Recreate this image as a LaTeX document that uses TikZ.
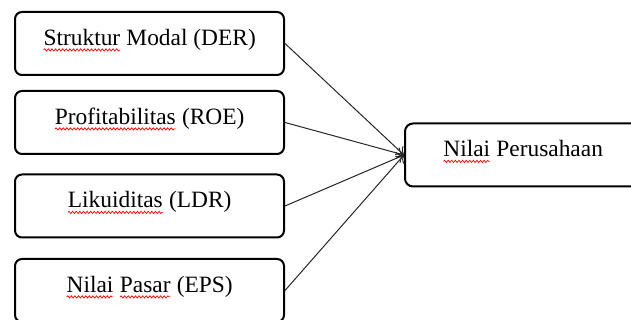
\documentclass[tikz,border=0pt]{standalone}
\usepackage{fontspec}
\setmainfont{Liberation Serif}
\usetikzlibrary{decorations.pathmorphing, arrows.meta}
\newcommand{\spellmark}[1]{\tikz[baseline=(w.base)]{%
    \node[draw=none, inner sep=0pt, outer sep=0pt, minimum width=0pt, minimum height=0pt,
        text height=, text depth=] (w) {#1};
    \draw[red, line width=0.35pt, sharp corners, decorate,
        decoration={snake, amplitude=0.55pt, segment length=1.8pt}]
        ([yshift=-2.2pt]w.base west) -- ([yshift=-2.2pt]w.base east);}}

\begin{document}
\begin{tikzpicture}[x=0.5pt, y=0.5pt,
    varbox/.style={draw, line width=1pt, rounded corners=3.5pt, minimum width=134.5pt,
        minimum height=31.5pt, text height=8.5pt, text depth=6.5pt, inner sep=0pt,
        font=\fontsize{11.7}{14}\selectfont},
    conn/.style={-{To[length=3.5pt, width=6pt]}, line width=0.5pt, black!85}]
    \useasboundingbox (0,0) rectangle (631,320);
    \clip (0,0) rectangle (631,320);

    % Independent variables
    \node[varbox] (der) at (149.5,276.5) {\spellmark{Struktur} Modal (DER)};
    \node[varbox] (roe) at (149.5,197.5) {\spellmark{Profitabilitas} (ROE)};
    \node[varbox] (ldr) at (149.5,114) {\spellmark{Likuiditas} (LDR)};
    \node[varbox] (eps) at (149.5,29.5) {\spellmark{Nilai} \spellmark{Pasar} (EPS)};

    % Dependent variable
    \node[varbox, minimum width=118pt, rounded corners=4pt] (nv) at (523,165) {\spellmark{Nilai} Perusahaan};

    % Arrows
    \foreach \src in {der,roe,ldr,eps}
        \draw[conn] (\src.east) -- (nv.west);
\end{tikzpicture}
\end{document}
